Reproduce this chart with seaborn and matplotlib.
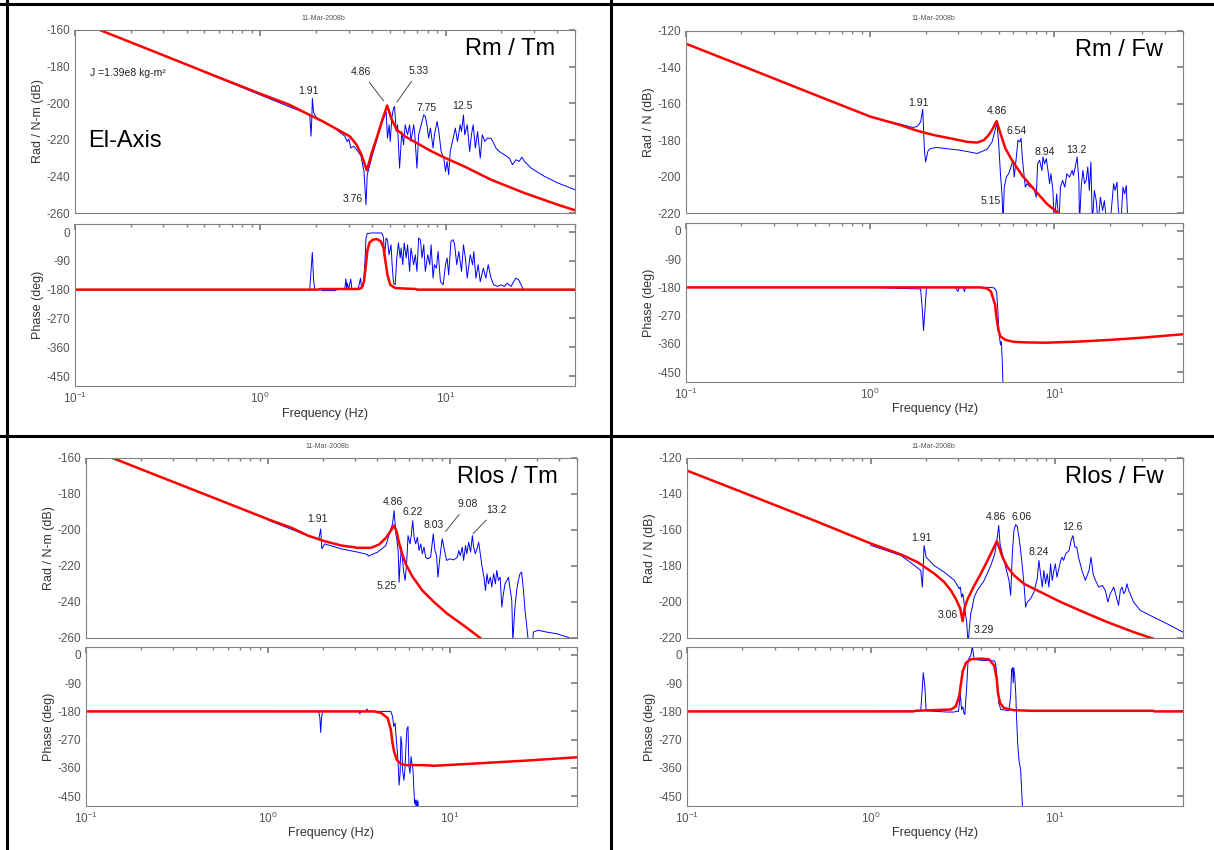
import matplotlib.pyplot as plt
import seaborn as sns
from matplotlib.lines import Line2D

# figure is 1214 x 850 px
W, H = 1214, 850

BLUE = "#0000ff"
RED = "#ff0000"
FRAME = "#808080"

# ---------------- Rm / Tm (El-Axis) ----------------
tl_red_f = [0.136, 0.3, 0.6, 1.0, 1.44, 1.77, 2.18, 2.69, 3.05, 3.31,
            3.52, 3.67, 3.76, 3.84, 3.99, 4.25, 4.53, 4.84, 4.96, 5.13,
            5.46, 6.06, 7.01, 8.29, 10.0, 12.6, 17.6, 26.7, 40.4, 50.0]
tl_red_db = [-160, -173.8, -186.0, -194.8, -200.9, -205.5, -210.0, -215.1, -218.2, -222.7,
             -228.2, -233.6, -236.7, -233.6, -227.3, -219.1, -210.0, -201.3, -204.5, -209.1,
             -214.5, -218.2, -221.8, -226.0, -230.0, -234.5, -241.8, -249.1, -255.5, -258.5]

tl_blue_f = [0.5, 1.0, 1.44, 1.7, 1.85, 1.88, 1.90, 1.91, 1.94, 2.0,
             2.2, 2.5, 2.86, 2.95, 3.01, 3.08, 3.2, 3.38, 3.5, 3.63,
             3.72, 3.78, 3.99, 4.34, 4.63, 4.78, 4.86, 4.96, 5.03, 5.13,
             5.24, 5.31, 5.42, 5.51, 5.65, 5.81, 5.94, 6.06, 6.24, 6.40,
             6.51, 6.73, 6.81, 7.01, 7.16, 7.47, 7.63, 7.78, 7.94, 8.11,
             8.29, 8.57, 8.71, 9.01, 9.20, 9.47, 9.79, 10.0, 10.2, 10.4,
             10.6, 11.0, 11.3, 11.6, 12.0, 12.2, 12.5, 12.7, 13.1, 13.5,
             13.8, 14.1, 14.5, 14.9, 15.4, 15.8, 16.3, 16.8, 17.6, 18.2,
             18.7, 19.5, 20.8, 22.1, 23.0, 24.0, 25.0, 25.8, 26.7, 29.0,
             34.2, 40.4, 50.0]
tl_blue_db = [-183.0, -195.5, -202.0, -204.8, -206.5, -218.0, -207.0, -197.3, -205.0, -207.5,
              -210.5, -213.5, -218.0, -221.0, -219.5, -224.5, -223.5, -226.5, -229.0, -237.3,
              -255.5, -239.1, -230.0, -217.3, -208.2, -204.9, -219.1, -211.8, -220.9, -208.2,
              -202.7, -201.8, -215.5, -211.8, -235.5, -215.5, -222.7, -211.8, -217.3, -211.8,
              -220.9, -211.8, -215.5, -235.5, -217.3, -210.0, -206.4, -207.3, -211.8, -219.1,
              -213.6, -224.5, -217.3, -210.0, -215.5, -226.4, -230.0, -237.3, -231.8, -239.1,
              -226.4, -219.1, -213.6, -220.9, -211.8, -215.5, -206.4, -217.3, -211.8, -226.4,
              -217.3, -211.8, -224.5, -215.5, -230.0, -217.3, -220.9, -219.1, -219.1, -221.8,
              -224.5, -226.4, -228.2, -230.0, -233.6, -230.9, -231.8, -229.5, -231.8, -235.5,
              -240.0, -243.6, -247.3]

tl_red_pf = [0.1, 2.05, 2.1, 3.38, 3.52, 3.63, 3.72, 3.78, 3.88, 4.05,
             4.25, 4.48, 4.63, 4.74, 4.86, 5.03, 5.35, 6.2, 6.9, 7.0, 50.0]
tl_red_deg = [-180, -180, -178, -178, -175, -155, -102, -61, -34, -24,
              -22, -29, -50, -92, -134, -165, -175, -177, -178, -180, -180]

tl_blue_pf = [1.0, 1.85, 1.88, 1.91, 1.94, 1.97, 2.1, 2.18, 2.52, 2.6,
              2.86, 2.90, 2.93, 2.95, 3.0, 3.08, 3.12, 3.38, 3.48, 3.52,
              3.6, 3.67, 3.72, 3.78, 4.0, 4.53, 4.58, 4.63, 4.68, 4.78,
              4.86, 4.96, 5.08, 5.15, 5.24, 5.35, 5.46, 5.57, 5.69, 5.76,
              5.88, 5.98, 6.13, 6.24, 6.40, 6.51, 6.73, 6.87, 7.01, 7.16,
              7.32, 7.47, 7.63, 7.78, 8.02, 8.22, 8.36, 8.57, 8.71, 8.93,
              9.12, 9.39, 9.71, 10.0, 10.2, 10.4, 10.7, 11.0, 11.2, 11.5,
              11.8, 12.2, 12.5, 12.8, 13.1, 13.6, 14.0, 14.2, 14.6, 15.0,
              15.4, 16.0, 16.5, 17.0, 17.6, 18.2, 19.1, 19.9, 20.8, 21.5,
              22.6, 23.3, 24.0, 24.8, 25.6, 26.3]
tl_blue_deg = [-180, -180, -120, -64, -150, -180, -180, -183, -183, -180,
               -178, -146, -178, -160, -178, -147, -178, -176, -144, -176,
               -170, -100, -20, -5, -3, -3, -10, -19, -81, -19,
               -24, -71, -40, -102, -160, -165, -81, -34, -81, -50,
               -102, -34, -81, -40, -123, -50, -102, -71, -123, -19,
               -24, -81, -40, -123, -71, -102, -40, -144, -102, -113,
               -61, -155, -165, -102, -81, -134, -29, -24, -40, -102,
               -61, -123, -40, -81, -144, -71, -102, -61, -144, -102,
               -155, -113, -144, -102, -144, -165, -170, -165, -170, -160,
               -170, -155, -144, -149, -165, -180]

# ---------------- Rm / Fw ----------------
tr_red_f = [0.1, 0.2, 0.5, 1.0, 1.46, 1.8, 2.22, 2.73, 3.36, 3.81,
            4.14, 4.4, 4.64, 4.86, 5.1, 5.43, 5.89, 6.68, 7.72, 9.12,
            10.8, 12.0]
tr_red_db = [-127, -139, -155, -167, -171.7, -174.8, -177.2, -179.0, -180.9, -181.3,
             -180.0, -177.2, -173.5, -169.5, -176.3, -184.6, -191.0, -199.3, -206.7, -215.0,
             -221.0, -226.0]

tr_blue_f = [1.0, 1.46, 1.7, 1.8, 1.88, 1.93, 1.97, 2.0, 2.06, 2.12,
             2.3, 2.52, 3.09, 3.81, 4.31, 4.59, 4.88, 4.99, 5.10, 5.21,
             5.27, 5.35, 5.49, 5.65, 5.82, 5.96, 6.06, 6.22, 6.35, 6.49,
             6.60, 6.70, 6.81, 6.96, 7.11, 7.41, 7.72, 7.98, 8.12, 8.32,
             8.57, 8.68, 8.86, 9.05, 9.24, 9.43, 9.59, 9.83, 10.0, 10.3,
             10.6, 10.8, 11.1, 11.4, 11.7, 12.1, 12.5, 12.7, 13.0, 13.3,
             13.6, 13.7, 14.0, 14.3, 14.6, 14.9, 15.2, 15.5, 15.8, 16.1,
             16.5, 16.9, 17.3, 17.8, 18.3, 18.7, 19.3, 20.1, 21.0, 21.4,
             21.9, 22.3, 23.0, 23.6, 24.1, 24.6, 25.1, 25.3]
tr_blue_db = [-167.3, -171.2, -173.0, -172.5, -170.0, -163.0, -185.0, -192.0, -186.0, -184.6,
              -184.0, -184.5, -185.5, -187.3, -185.0, -181.0, -170.7, -181.8, -198.4, -211.3,
              -226.0, -205.8, -200.3, -198.4, -194.7, -191.0, -200.3, -189.2, -180.0, -180.9,
              -179.0, -189.2, -196.6, -205.8, -203.9, -205.8, -205.8, -211.3, -192.9, -191.0,
              -196.6, -189.2, -192.9, -190.1, -196.6, -203.9, -198.4, -207.6, -226.0, -209.5,
              -226.0, -205.8, -202.1, -205.8, -198.4, -200.3, -196.6, -199.3, -194.7, -189.2,
              -202.1, -226.0, -205.8, -196.6, -203.9, -202.1, -194.7, -207.6, -192.0, -226.0,
              -207.6, -213.2, -226.0, -211.3, -218.7, -213.2, -226.0, -226.0, -203.9, -207.6,
              -203.0, -218.7, -226.0, -205.8, -209.5, -204.9, -226.0, -230.0]

tr_red_pf = [0.1, 4.0, 4.3, 4.53, 4.77, 4.86, 4.97, 5.1, 5.43, 6.0,
             7.0, 9.0, 14.0, 20.0, 30.0, 50.0]
tr_red_deg = [-180, -180, -183, -193, -235, -278, -315, -336, -347, -353,
              -355, -356, -352, -347, -340, -329]

tr_blue_pf = [1.0, 1.88, 1.92, 1.95, 1.98, 2.02, 2.05, 2.9, 3.0, 3.05,
              3.2, 3.25, 3.3, 4.53, 4.73, 4.86, 4.93, 5.0, 5.1, 5.16,
              5.21, 5.27]
tr_blue_deg = [-180, -185, -250, -317, -260, -185, -180, -180, -193, -180,
               -180, -193, -180, -180, -182, -193, -246, -320, -363, -352,
               -405, -495]

# ---------------- Rlos / Tm ----------------
bl_red_f = [0.1, 0.3, 0.5, 1.0, 1.35, 1.66, 2.05, 2.53, 3.12, 3.69,
            4.09, 4.45, 4.74, 4.94, 5.11, 5.25, 5.43, 5.72, 6.22, 7.06,
            8.18, 9.67, 11.9, 14.7, 16.0]
bl_red_db = [-154.2, -173.2, -182.0, -194.0, -198.8, -203.1, -206.2, -208.6, -209.9, -209.9,
             -208.0, -204.4, -200.3, -197.5, -201.2, -206.8, -212.3, -218.8, -225.8, -233.6,
             -240.0, -246.5, -253.0, -260.0, -263.0]

bl_blue_f = [1.0, 1.5, 1.9, 1.95, 1.98, 2.05, 2.53, 3.12, 3.53, 3.56,
             4.01, 4.45, 4.74, 4.84, 4.94, 5.05, 5.12, 5.20, 5.26, 5.33,
             5.42, 5.56, 5.68, 5.80, 5.89, 6.04, 6.15, 6.25, 6.36, 6.49,
             6.63, 6.77, 6.92, 7.06, 7.21, 7.36, 7.52, 7.84, 8.11, 8.28,
             8.45, 8.60, 8.82, 9.08, 9.27, 9.59, 10.0, 10.5, 11.0, 11.2,
             11.4, 11.7, 11.9, 12.2, 12.4, 12.7, 13.0, 13.3, 13.5, 13.8,
             14.1, 14.4, 14.7, 15.0, 15.4, 15.7, 16.0, 16.3, 16.7, 17.0,
             17.4, 17.8, 18.1, 18.5, 18.9, 19.3, 19.7, 20.1, 20.6, 21.0,
             21.5, 21.9, 22.2, 22.6, 22.8, 23.3, 23.8, 24.3, 24.8, 25.4,
             25.9, 26.5, 27.0, 27.8, 28.8, 30.6, 34.0, 38.6, 43.8, 48.6]
bl_blue_db = [-194.5, -201.5, -205.5, -199.4, -210.5, -207.7, -210.5, -212.3, -213.6, -214.5,
              -212.3, -208.6, -199.4, -196.6, -189.2, -202.1, -205.8, -211.4, -229.0, -218.8,
              -209.5, -222.5, -228.0, -216.9, -203.1, -207.7, -202.1, -194.8, -204.0, -207.7,
              -204.0, -211.4, -207.7, -213.2, -209.5, -215.1, -216.0, -215.1, -202.1, -211.4,
              -214.2, -226.2, -215.1, -204.9, -209.5, -216.9, -216.0, -216.6, -215.1, -211.4,
              -214.2, -209.5, -216.9, -208.6, -213.2, -206.8, -212.3, -203.1, -209.5, -213.2,
              -210.5, -206.8, -213.2, -219.7, -226.2, -233.6, -224.3, -229.9, -226.2, -231.7,
              -224.3, -229.9, -222.5, -228.0, -226.2, -242.8, -235.4, -229.9, -228.0, -226.2,
              -233.6, -239.1, -262.0, -248.4, -242.8, -233.6, -228.0, -224.3, -223.4, -233.6,
              -244.7, -253.9, -262.0, -275.0, -256.7, -255.7, -256.7, -257.6, -259.4, -261.0]

bl_red_pf = [0.1, 3.84, 4.19, 4.55, 4.74, 4.84, 4.94, 5.12, 5.39, 5.72,
             7.21, 8.18, 11.0, 16.7, 25.4, 50.0]
bl_red_deg = [-180, -180, -185, -201, -238, -281, -308, -335, -347, -351,
              -351, -353, -349, -343, -337, -326]

bl_blue_pf = [1.0, 1.9, 1.93, 1.95, 1.97, 2.0, 3.15, 3.2, 3.25, 3.45,
              3.5, 3.55, 4.74, 4.84, 4.92, 5.0, 5.08, 5.17, 5.22, 5.26,
              5.33, 5.38, 5.44, 5.5, 5.59, 5.66, 5.80, 5.89, 5.96, 6.04,
              6.12, 6.27, 6.40, 6.47, 6.52, 6.58, 6.63, 6.68, 6.73]
bl_blue_deg = [-180, -180, -200, -247, -200, -180, -180, -188, -180, -180,
               -172, -180, -180, -196, -228, -217, -270, -324, -367, -415,
               -377, -260, -281, -367, -399, -367, -238, -228, -356, -377,
               -324, -367, -473, -462, -490, -462, -490, -465, -495]

# ---------------- Rlos / Fw ----------------
br_red_f = [0.1, 0.2, 0.5, 1.0, 1.46, 1.8, 2.22, 2.51, 2.73, 2.9,
            3.07, 3.16, 3.25, 3.36, 3.66, 3.97, 4.32, 4.59, 4.85, 4.99,
            5.21, 5.54, 6.02, 6.82, 8.4, 10.8, 14.4, 19.3, 26.9, 34.5, 40.0]
br_red_db = [-127, -139, -155, -167.5, -173.6, -177.9, -184.3, -188.9, -193.6, -198.2,
             -203.7, -210.6, -202.8, -198.5, -190.8, -184.3, -176.9, -171.4, -166.2, -169.5,
             -175.1, -180.6, -185.2, -189.9, -194.5, -200.0, -205.6, -211.1, -216.7, -220.4, -223.0]

br_blue_f = [1.0, 1.46, 1.73, 1.87, 1.91, 1.95, 2.00, 2.21, 2.51, 2.85,
             3.03, 3.07, 3.12, 3.17, 3.25, 3.33, 3.39, 3.43, 3.50, 3.57,
             3.65, 3.80, 4.14, 4.50, 4.73, 4.88, 4.97, 5.05, 5.20, 5.42,
             5.65, 5.77, 5.89, 6.01, 6.14, 6.27, 6.40, 6.54, 6.68, 6.82,
             6.96, 7.11, 7.41, 7.72, 8.05, 8.22, 8.39, 8.57, 8.75, 8.93,
             9.12, 9.32, 9.51, 9.71, 9.92, 10.1, 10.3, 10.6, 10.8, 11.0,
             11.2, 11.5, 12.0, 12.3, 12.6, 12.9, 13.2, 13.5, 14.1, 14.7,
             15.4, 15.8, 16.2, 16.7, 17.4, 18.2, 18.9, 19.5, 20.1, 21.0,
             21.7, 22.3, 22.8, 23.3, 23.8, 24.3, 24.8, 25.3, 25.8, 26.9,
             29.3, 34.6, 40.8, 49.9]
br_blue_db = [-168.5, -174.2, -179.7, -182.5, -191.7, -168.6, -175.1, -179.7, -183.4, -188.0,
              -192.6, -191.7, -197.3, -195.4, -203.7, -212.0, -224.0, -215.7, -206.5, -202.8,
              -197.3, -193.6, -188.0, -179.7, -173.2, -164.0, -157.5, -167.7, -173.2, -180.6,
              -188.0, -196.3, -173.2, -160.3, -157.0, -158.1, -164.0, -171.4, -180.6, -189.9,
              -202.8, -200.0, -198.2, -194.5, -187.1, -176.9, -184.3, -191.7, -182.5, -189.9,
              -184.3, -191.7, -178.8, -188.0, -182.5, -178.8, -186.2, -180.6, -176.9, -175.1,
              -176.9, -173.2, -171.4, -165.8, -163.1, -169.5, -169.5, -175.1, -182.5, -188.0,
              -182.5, -175.1, -184.3, -188.0, -191.7, -190.8, -193.6, -200.0, -195.4, -191.7,
              -197.3, -201.9, -193.6, -191.7, -195.4, -193.6, -189.9, -193.6, -195.4, -200.0,
              -204.7, -208.4, -212.0, -216.7]

br_red_pf = [0.1, 1.7, 1.75, 2.73, 2.9, 3.03, 3.1, 3.17, 3.3, 3.5,
             4.0, 4.4, 4.7, 4.85, 4.92, 5.05, 5.3, 6.0, 7.4, 34.5,
             35.0, 50.0]
br_red_deg = [-180, -180, -178, -174, -164, -131, -89, -51, -25, -14,
              -12, -14, -35, -78, -121, -153, -169, -176, -178, -178,
              -180, -180]

br_blue_pf = [1.0, 1.87, 1.9, 1.93, 1.97, 2.0, 2.6, 2.85, 2.9, 3.0,
              3.07, 3.12, 3.17, 3.21, 3.25, 3.32, 3.38, 3.43, 3.5, 3.57,
              3.65, 3.8, 4.14, 4.5, 4.73, 4.8, 4.88, 4.97, 5.1, 5.4,
              5.65, 5.77, 5.84, 5.91, 5.96, 6.0, 6.07, 6.16, 6.2, 6.3,
              6.4, 6.54, 6.65, 6.7]
br_blue_deg = [-180, -178, -120, -57, -100, -178, -182, -182, -180, -180,
               -126, -174, -165, -185, -190, -110, -25, -9, -3, 27,
               -14, -16, -18, -18, -20, -35, -89, -153, -174, -176,
               -177, -131, -46, -41, -89, -41, -67, -131, -185, -281,
               -335, -367, -452, -495]

# annotated mode frequencies: (label, x, y) in data units
tl_notes = [("1.91", 1.82, -193.5), ("7.75", 7.94, -202.7), ("12.5", 12.4, -201.5), ("3.76", 3.17, -252.2)]
tr_notes = [("1.91", 1.84, -159.7), ("4.86", 4.88, -163.9), ("6.54", 6.27, -174.8),
            ("8.94", 8.83, -186.4), ("13.2", 13.2, -185.5), ("5.15", 4.5, -213.2)]
bl_notes = [("1.91", 1.88, -193.8), ("4.86", 4.88, -184.6), ("6.22", 6.27, -190.1),
            ("8.03", 8.11, -197.5), ("5.25", 4.51, -231.2)]
br_notes = [("1.91", 1.89, -164.4), ("4.86", 4.77, -152.5), ("6.06", 6.6, -152.5),
            ("12.6", 12.5, -158.4), ("8.24", 8.16, -172.3), ("3.06", 2.61, -207.0),
            ("3.29", 4.1, -215.7)]
# labels with a leader line: (label, text pos, line end)
tl_leaders = [("4.86", (3.5, -182.7), (4.63, -198.7)), ("5.33", (7.2, -182.2), (5.46, -199.5))]
bl_leaders = [("9.08", (12.5, -185.5), (9.47, -200.9)), ("13.2", (18.0, -188.8), (13.4, -202.1))]

sns.set_theme(style="white")
plt.rcParams["font.family"] = ["Liberation Sans", "DejaVu Sans"]
plt.rcParams["mathtext.fontset"] = "custom"
plt.rcParams["mathtext.rm"] = "Liberation Sans"
plt.rcParams["axes.unicode_minus"] = False


def px_rect(left, top, right, bottom):
    return [left / W, 1 - bottom / H, (right - left) / W, (bottom - top) / H]


def style_axes(ax):
    ax.set_xscale("log")
    ax.set_xlim(0.1, 50)
    for sp in ax.spines.values():
        sp.set_color(FRAME)
        sp.set_linewidth(0.8)
    ax.tick_params(which="both", direction="in", top=True, right=True,
                   color=FRAME, labelcolor="#555555", labelsize=8.5)
    ax.tick_params(which="major", length=4)
    ax.tick_params(which="minor", length=2.2)
    ax.set_facecolor("white")


def line(ax, x, y, color, lw):
    sns.lineplot(x=x, y=y, ax=ax, color=color, linewidth=lw,
                 estimator=None, sort=False, legend=False)


def draw_panel(fig, mag_rect, ph_rect, ylim, ylabel, title,
               blue_f, blue_db, red_f, red_db, blue_pf, blue_deg, red_pf, red_deg,
               notes, leaders=()):
    ax_m = fig.add_axes(px_rect(*mag_rect))
    ax_p = fig.add_axes(px_rect(*ph_rect))
    line(ax_m, blue_f, blue_db, BLUE, 0.7)
    line(ax_m, red_f, red_db, RED, 1.8)
    line(ax_p, blue_pf, blue_deg, BLUE, 0.7)
    line(ax_p, red_pf, red_deg, RED, 1.8)

    for ax in (ax_m, ax_p):
        style_axes(ax)
    ax_m.set_ylim(*ylim)
    ax_m.set_yticks(range(ylim[0], ylim[1] + 1, 20))
    ax_m.tick_params(labelbottom=False)
    ax_p.set_ylim(-481, 25)
    ax_p.set_yticks([0, -90, -180, -270, -360, -450])

    ax_m.set_ylabel(ylabel, fontsize=9, color="#333333")
    ax_p.set_ylabel("Phase (deg)", fontsize=9, color="#333333")
    ax_p.set_xlabel("Frequency (Hz)", fontsize=9, color="#333333")
    w = mag_rect[2] - mag_rect[0]
    lab_x = -31 / w
    ax_m.yaxis.set_label_coords(lab_x, 0.5)
    ax_p.yaxis.set_label_coords(lab_x, 0.5)
    ax_p.xaxis.set_label_coords(0.5, -0.135)

    ax_m.text(0.96, 0.895, title, transform=ax_m.transAxes, ha="right",
              va="center", fontsize=17, color="black")
    for lab, x, y in notes:
        ax_m.text(x, y, lab, ha="center", va="center", fontsize=7.5, color="#222222")
    for lab, txt, tip in leaders:
        ax_m.annotate(lab, xy=tip, xytext=txt, ha="center", va="center",
                      fontsize=7.5, color="#222222",
                      arrowprops=dict(arrowstyle="-", color="#333333", lw=0.6,
                                      shrinkA=2, shrinkB=0))
    return ax_m, ax_p


fig = plt.figure(figsize=(W / 100, H / 100), dpi=100)
fig.patch.set_facecolor("white")

ax_tl, _ = draw_panel(fig, (75, 30, 575, 213), (75, 224, 575, 386), (-260, -160),
                      "Rad / N-m (dB)", "Rm / Tm",
                      tl_blue_f, tl_blue_db, tl_red_f, tl_red_db,
                      tl_blue_pf, tl_blue_deg, tl_red_pf, tl_red_deg,
                      tl_notes, tl_leaders)
ax_tl.text(0.03, 0.765, "J =1.39e8 kg-m²", transform=ax_tl.transAxes,
           ha="left", va="center", fontsize=7.5, color="#222222")
ax_tl.text(0.026, 0.393, "El-Axis", transform=ax_tl.transAxes,
           ha="left", va="center", fontsize=17, color="black")

draw_panel(fig, (686, 31, 1183, 213), (686, 223, 1183, 382), (-220, -120),
           "Rad / N (dB)", "Rm / Fw",
           tr_blue_f, tr_blue_db, tr_red_f, tr_red_db,
           tr_blue_pf, tr_blue_deg, tr_red_pf, tr_red_deg, tr_notes)

draw_panel(fig, (86, 458, 577, 638), (86, 647, 577, 806), (-260, -160),
           "Rad / N-m (dB)", "Rlos / Tm",
           bl_blue_f, bl_blue_db, bl_red_f, bl_red_db,
           bl_blue_pf, bl_blue_deg, bl_red_pf, bl_red_deg,
           bl_notes, bl_leaders)

draw_panel(fig, (687, 458, 1183, 638), (687, 647, 1183, 806), (-220, -120),
           "Rad / N (dB)", "Rlos / Fw",
           br_blue_f, br_blue_db, br_red_f, br_red_db,
           br_blue_pf, br_blue_deg, br_red_pf, br_red_deg, br_notes)

# small date stamps above each quadrant
for x, y in [(323, 19), (933, 19), (327, 447), (933, 447)]:
    fig.text(x / W, 1 - y / H, "11-Mar-2008b", ha="center", va="center",
             fontsize=5, color="#555555")

# black quadrant borders
for xs, ys in [((0, 1), (1 - 4 / H, 1 - 4 / H)),
               ((7 / W, 7 / W), (0, 1)),
               ((611 / W, 611 / W), (0, 1)),
               ((0, 1), (1 - 436 / H, 1 - 436 / H))]:
    fig.add_artist(Line2D(xs, ys, color="black", linewidth=2.2,
                          transform=fig.transFigure))

fig.savefig("out.png", dpi=100)
plt.close(fig)
